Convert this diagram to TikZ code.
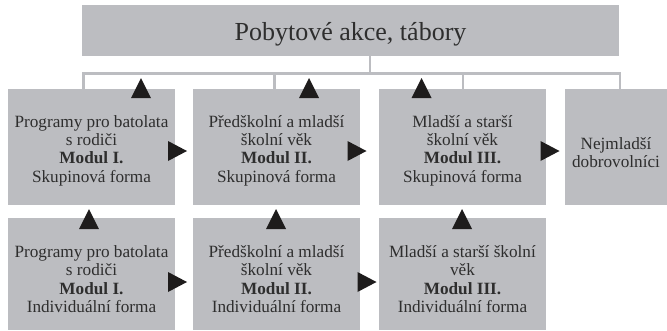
\documentclass[tikz,border=0pt]{standalone}
\usepackage{fontspec}
\setmainfont{Liberation Serif}
\definecolor{boxgray}{HTML}{BCBDC1}
\definecolor{txtcol}{HTML}{2E2E2E}
\definecolor{tricol}{HTML}{1E1C1C}
\newcommand\myUp[2]{\fill[tricol] (#1-10,#2) -- (#1+10,#2) -- (#1,#2-20) -- cycle;}
\newcommand\myRight[2]{\fill[tricol] (#1,#2-10) -- (#1,#2+10) -- (#1+19,#2) -- cycle;}
\begin{document}
\begin{tikzpicture}[x=1pt,y=-1pt,
  box/.style={fill=boxgray, draw=none, inner sep=0pt, minimum width=167pt},
  lbl/.style={inner sep=0pt, align=center, text=txtcol, font=\fontsize{17.2}{18.4}\selectfont},
  conn/.style={draw=boxgray, line width=2.2pt}]
\useasboundingbox (0,0) rectangle (667,330);
% boxes
\node[box, minimum width=537pt, minimum height=51pt] (top) at (350.5,30.5) {};
\node[box, minimum height=116pt] (a1) at (91.5,147) {};
\node[box, minimum height=116pt] (a2) at (276.5,147) {};
\node[box, minimum height=116pt] (a3) at (462.5,147) {};
\node[box, minimum height=116pt, minimum width=102pt] (a4) at (616,147) {};
\node[box, minimum height=112pt] (b1) at (91.5,274) {};
\node[box, minimum height=112pt] (b2) at (276.5,274) {};
\node[box, minimum height=112pt] (b3) at (462.5,274) {};
% texts
\node[lbl, font=\fontsize{26}{30}\selectfont] (ttop) at (350.5,34) {Pobytové akce, tábory};
\node[lbl] (ta1) at (91.5,150.5) {Programy pro batolata\\s rodiči\\\textbf{Modul I.}\\Skupinová forma};
\node[lbl] (ta2) at (276.5,150.5) {Předškolní a mladší\\školní věk\\\textbf{Modul II.}\\Skupinová forma};
\node[lbl] (ta3) at (462.5,150.5) {Mladší a starší\\školní věk\\\textbf{Modul III.}\\Skupinová forma};
\node[lbl] (ta4) at (616,152.5) {Nejmladší\\dobrovolníci};
\node[lbl] (tb1) at (91.5,279) {Programy pro batolata\\s rodiči\\\textbf{Modul I.}\\Individuální forma};
\node[lbl] (tb2) at (276.5,279) {Předškolní a mladší\\školní věk\\\textbf{Modul II.}\\Individuální forma};
\node[lbl] (tb3) at (462.5,279) {Mladší a starší školní\\věk\\\textbf{Modul III.}\\Individuální forma};
% connectors
\coordinate (stem) at (370,73.5);
\coordinate (d1) at (83.5,73.5);
\coordinate (d2) at (274.5,73.5);
\coordinate (d3) at (463,73.5);
\coordinate (d4) at (620,73.5);
\draw[conn] (top.south -| stem) -- (stem);
\draw[conn] (d1 |- a1.north) -- (d1) -- (d4) -- (d4 |- a4.north);
\draw[conn] (d2) -- (d2 |- a2.north);
\draw[conn] (d3) -- (d3 |- a3.north);
% arrowheads
\myUp{141}{98}
\myUp{309}{98}
\myUp{421.5}{98}
\myUp{89}{229}
\myUp{276}{229}
\myUp{462}{229}
\myRight{168}{151}
\myRight{347.5}{151}
\myRight{540.5}{151}
\myRight{168}{282}
\myRight{357.5}{282}
\end{tikzpicture}
\end{document}
